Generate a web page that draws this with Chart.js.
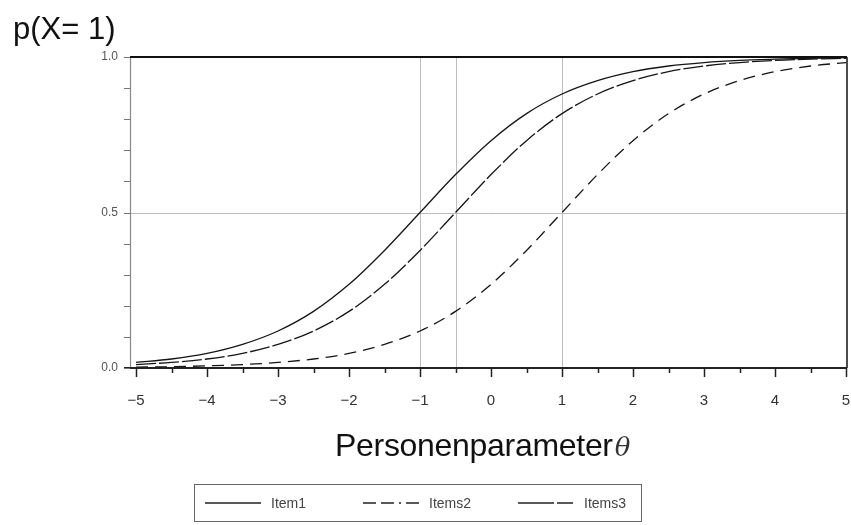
<!DOCTYPE html>
<html>
<head>
<meta charset="utf-8">
<script src="https://cdn.jsdelivr.net/npm/chart.js@4.4.1/dist/chart.umd.min.js"></script>
<style>
  html, body { margin:0; padding:0; background:#fff; }
  #wrap { position:relative; width:851px; height:525px; overflow:hidden; }
  canvas { position:absolute; left:0; top:0; }
  .ytitle { position:absolute; left:13px; top:13px; font-family:"Liberation Sans", Arial, sans-serif; font-size:31px; color:#111; line-height:1; white-space:nowrap; letter-spacing:0px; }
  .xtitle { position:absolute; left:335px; top:429px; font-family:"Liberation Sans", Arial, sans-serif; font-size:32px; color:#111; line-height:1; white-space:nowrap; letter-spacing:-0.3px; }
  .xtitle i { font-family:"DejaVu Serif", serif; font-weight:normal; font-size:26px; color:#333; margin-left:2px; }
  .legend { position:absolute; left:194px; top:484px; width:448px; height:38px; border:1px solid #666; box-sizing:border-box; font-family:"Liberation Sans", Arial, sans-serif; font-size:14px; color:#444; }
  .legend .item { position:absolute; top:0; height:36px; display:flex; align-items:center; }
  .legend svg { margin-right:10px; }
</style>
</head>
<body>
<div id="wrap">
  <canvas id="c" width="851" height="525"></canvas>
  <div class="ytitle">p(X= 1)</div>
  <div class="xtitle">Personenparameter<i>θ</i></div>
  <div class="legend" id="legend"></div>
</div>
<script>
// ---- data ----
const theta = [-5,-4.5,-4,-3.5,-3,-2.5,-2,-1.5,-1,-0.5,0,0.5,1,1.5,2,2.5,3,3.5,4,4.5,5];
const item1  = [0.018,0.029,0.047,0.076,0.119,0.182,0.269,0.378,0.500,0.622,0.731,0.818,0.881,0.924,0.953,0.971,0.982,0.989,0.993,0.996,0.998];
const items3 = [0.011,0.018,0.029,0.047,0.076,0.119,0.182,0.269,0.378,0.500,0.622,0.731,0.818,0.881,0.924,0.953,0.971,0.982,0.989,0.993,0.996];
const items2 = [0.003,0.004,0.007,0.011,0.018,0.029,0.047,0.076,0.119,0.182,0.269,0.378,0.500,0.622,0.731,0.818,0.881,0.924,0.953,0.971,0.982];
const seriesNames = ['Item1','Items2','Items3'];
const xTickValues = [-5,-4,-3,-2,-1,0,1,2,3,4,5];
const yTickLabels = {0:'0.0', 0.5:'0.5', 1:'1.0'};
const refX = [-1,-0.5,1];
const refY = [0.5];

const toPts = arr => theta.map((t,i)=>({x:t, y:arr[i]}));
const dashes = [[], [12,7], [20,3]];
const legendDash = ['', '13,5,13,5,2,5', '36,3,16,3'];

const borderPlugin = {
  id:'frame',
  beforeDatasetsDraw(chart){
    const {ctx, chartArea:a, scales:{x,y}} = chart;
    ctx.save();
    ctx.strokeStyle = '#bdbdbd'; ctx.lineWidth = 1;
    refX.forEach(v=>{ const px = Math.round(x.getPixelForValue(v))+0.5; ctx.beginPath(); ctx.moveTo(px,a.top); ctx.lineTo(px,a.bottom); ctx.stroke(); });
    refY.forEach(v=>{ const py = Math.round(y.getPixelForValue(v))+0.5; ctx.beginPath(); ctx.moveTo(a.left,py); ctx.lineTo(a.right,py); ctx.stroke(); });
    ctx.restore();
  },
  afterDatasetsDraw(chart){
    const {ctx, chartArea:a, scales:{x,y}} = chart;
    ctx.save();
    ctx.strokeStyle = '#888'; ctx.lineWidth = 1.2;
    ctx.beginPath(); ctx.moveTo(a.left+0.5, a.top); ctx.lineTo(a.left+0.5, a.bottom); ctx.stroke();
    ctx.strokeStyle = '#111'; ctx.lineWidth = 2;
    ctx.beginPath(); ctx.moveTo(a.left, a.top); ctx.lineTo(a.right, a.top); ctx.stroke();
    ctx.lineWidth = 1.5;
    ctx.beginPath(); ctx.moveTo(a.right, a.top); ctx.lineTo(a.right, a.bottom); ctx.stroke();
    ctx.strokeStyle = '#222'; ctx.lineWidth = 1.8;
    ctx.beginPath(); ctx.moveTo(a.left-6, a.bottom); ctx.lineTo(a.right, a.bottom); ctx.stroke();
    ctx.lineWidth = 1.5; ctx.strokeStyle = '#222';
    for (let v=-5; v<=5.001; v+=0.5){
      const px = Math.round(x.getPixelForValue(v))+0.5;
      const len = Number.isInteger(v) ? 9 : 5;
      ctx.beginPath(); ctx.moveTo(px, a.bottom); ctx.lineTo(px, a.bottom+len); ctx.stroke();
    }
    ctx.lineWidth = 1; ctx.strokeStyle = '#777';
    for (let i=0;i<=10;i++){
      const py = Math.round(y.getPixelForValue(i/10))+0.5;
      ctx.beginPath(); ctx.moveTo(a.left-6, py); ctx.lineTo(a.left, py); ctx.stroke();
    }
    ctx.restore();
  }
};

new Chart(document.getElementById('c'), {
  type:'line',
  data:{
    datasets:[item1, items2, items3].map((arr,i)=>({
      label: seriesNames[i],
      data: toPts(arr),
      borderColor:'#151515',
      borderWidth:1.3,
      borderDash: dashes[i],
      pointRadius:0,
      cubicInterpolationMode:'monotone',
      fill:false
    }))
  },
  options:{
    responsive:false,
    animation:false,
    layout:{padding:{top:57, right:4, left:0, bottom:0}},
    plugins:{legend:{display:false}, tooltip:{enabled:false}},
    scales:{
      x:{
        type:'linear', min:-5.085, max:5.014,
        afterBuildTicks: s => { s.ticks = xTickValues.map(v=>({value:v})); },
        afterFit: s => { s.height = 157; s.paddingLeft = 0; s.paddingRight = 0; },
        grid:{display:false, drawTicks:false},
        border:{display:false},
        ticks:{
          padding:24, maxRotation:0, autoSkip:false,
          color:'#333', font:{family:'"Liberation Sans", Arial, sans-serif', size:15},
          callback: v => (v<0 ? '\u2212' + Math.abs(v) : String(v))
        }
      },
      y:{
        type:'linear', min:0, max:1,
        afterBuildTicks: s => { s.ticks = Object.keys(yTickLabels).map(k=>({value:Number(k)})); },
        afterFit: s => { s.width = 130; s.paddingTop = 0; s.paddingBottom = 0; },
        grid:{display:false, drawTicks:false},
        border:{display:false},
        ticks:{
          padding:12, autoSkip:false,
          color:'#555', font:{family:'"Liberation Sans", Arial, sans-serif', size:12},
          callback: v => yTickLabels[v] ?? ''
        }
      }
    }
  },
  plugins:[borderPlugin]
});

const lg = document.getElementById('legend');
const lefts = [10, 168, 323];
seriesNames.forEach((n,i)=>{
  const d = document.createElement('div');
  d.className = 'item';
  d.style.left = lefts[i] + 'px';
  d.innerHTML = `<svg width="56" height="4"><line x1="0" y1="2" x2="56" y2="2" stroke="#222" stroke-width="1.3" ${legendDash[i] ? 'stroke-dasharray="'+legendDash[i]+'"' : ''}/></svg><span>${n}</span>`;
  lg.appendChild(d);
});
</script>
</body>
</html>
